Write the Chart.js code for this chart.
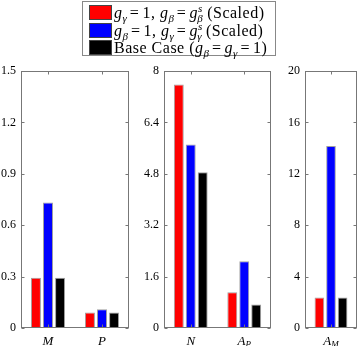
<!DOCTYPE html>
<html>
<head>
<meta charset="utf-8">
<title>Scaled bar comparison</title>
<script src="https://cdn.jsdelivr.net/npm/chart.js@4.4.1/dist/chart.umd.min.js"></script>
<style>
  html, body { margin: 0; padding: 0; background: #fff; }
  body { width: 360px; height: 346px; position: relative; overflow: hidden; }
  .panel { position: absolute; top: 0; height: 346px; }
  #legend {
    position: absolute; left: 82px; top: 1px; width: 192px; height: 53px;
    border: 1px solid #888; background: #fff;
    font-family: "Liberation Serif", "DejaVu Serif", serif; font-size: 16px; color: #000;
    letter-spacing: 0.5px;
  }
  #legend .row { position: absolute; left: 6px; height: 18px; line-height: 18px; white-space: nowrap; }
  #legend .sw { display: inline-block; width: 23px; height: 15px; border: 1px solid #444;
    vertical-align: -2px; margin-right: 2px; box-sizing: border-box; }
  #legend sub, #legend sup { font-size: 11px; line-height: 0; font-style: italic; letter-spacing: 0; }
  #legend .eq { margin: 0 3px; }
</style>
</head>
<body>

<!-- three panels, each its own chart -->
<div class="panel" style="left:0; width:132px;"><canvas id="c1" width="132" height="346"></canvas></div>
<div class="panel" style="left:132px; width:142px;"><canvas id="c2" width="142" height="346"></canvas></div>
<div class="panel" style="left:274px; width:86px;"><canvas id="c3" width="86" height="346"></canvas></div>

<!-- legend -->
<div id="legend">
  <div class="row" style="top:2px"><span class="sw" style="background:#ff0000"></span><i>g</i><sub>&gamma;</sub><span class="eq">=</span>1, <i>g</i><sub>&beta;</sub><span class="eq">=</span><i>g</i><sup>s</sup><sub style="margin-left:-5px">&beta;</sub> (Scaled)</div>
  <div class="row" style="top:20px"><span class="sw" style="background:#0000ff"></span><i>g</i><sub>&beta;</sub><span class="eq">=</span>1, <i>g</i><sub>&gamma;</sub><span class="eq">=</span><i>g</i><sup>s</sup><sub style="margin-left:-5px">&gamma;</sub> (Scaled)</div>
  <div class="row" style="top:37px"><span class="sw" style="background:#000000"></span>Base Case (<i>g</i><sub>&beta;</sub><span class="eq">=</span><i>g</i><sub>&gamma;</sub><span class="eq">=</span>1)</div>
</div>

<script>
// ---- data ----
const labels1 = ["M", "P"];
const red1 = [0.293, 0.09];
const blue1 = [0.732, 0.11];
const black1 = [0.293, 0.09];
const ticks1 = [0, 0.3, 0.6, 0.9, 1.2, 1.5];

const labels2 = ["N", "A_P"];
const red2 = [7.58, 1.11];
const blue2 = [5.71, 2.08];
const black2 = [4.85, 0.73];
const ticks2 = [0, 1.6, 3.2, 4.8, 6.4, 8];

const labels3 = ["A_M"];
const red3 = [2.37];
const blue3 = [14.16];
const black3 = [2.37];
const ticks3 = [0, 4, 8, 12, 16, 20];

const seriesColors = ["#ff0000", "#0000ff", "#000000"];
const serif = "'Liberation Serif', 'DejaVu Serif', serif";

// box around the plot area plus small inward ticks, like matlab
const boxPlugin = {
  id: "box",
  afterDraw(chart) {
    const a = chart.chartArea, c = chart.ctx;
    const y = chart.scales.y, x = chart.scales.x;
    c.save();
    c.strokeStyle = "#777";
    c.lineWidth = 1;
    const L = Math.round(a.left) + 0.5, R = Math.round(a.right) - 0.5;
    const T = Math.round(a.top) + 0.5, B = Math.round(a.bottom) - 0.5;
    c.strokeRect(L, T, R - L, B - T);
    c.beginPath();
    y.ticks.forEach(t => {
      const py = Math.round(y.getPixelForValue(t.value)) + 0.5;
      c.moveTo(L, py); c.lineTo(L + 3, py);
      c.moveTo(R, py); c.lineTo(R - 3, py);
    });
    x.ticks.forEach((t, i) => {
      const px = Math.round(x.getPixelForTick(i)) + 0.5;
      c.moveTo(px, B); c.lineTo(px, B - 3);
      c.moveTo(px, T); c.lineTo(px, T + 3);
    });
    c.stroke();
    c.restore();
  }
};

// category label with a subscript, e.g. A_P
const subLabelPlugin = {
  id: "subLabels",
  afterDraw(chart) {
    const x = chart.scales.x, c = chart.ctx;
    c.save();
    c.fillStyle = "#000";
    c.textBaseline = "alphabetic";
    chart.data.labels.forEach((lab, i) => {
      const parts = lab.split("_");
      const main = parts[0], sub = parts[1] || "";
      c.font = "italic 13px " + serif;
      const w1 = c.measureText(main).width;
      c.font = "italic 9px " + serif;
      const w2 = sub ? c.measureText(sub).width : 0;
      const px = x.getPixelForTick(i);
      const start = px - (w1 + w2) / 2;
      c.font = "italic 13px " + serif;
      c.textAlign = "left";
      c.fillText(main, start, 345);
      if (sub) {
        c.font = "italic 9px " + serif;
        c.fillText(sub, start + w1, 347);
      }
    });
    c.restore();
  }
};

function makePanel(id, labels, red, blue, black, ticks, yWidth) {
  new Chart(document.getElementById(id), {
    type: "bar",
    data: {
      labels: labels,
      datasets: [red, blue, black].map((d, i) => ({
        data: d,
        backgroundColor: seriesColors[i],
        borderColor: "#a0a0a0",
        borderWidth: 1,
        categoryPercentage: 0.67,
        barPercentage: 0.83
      }))
    },
    options: {
      responsive: false,
      animation: false,
      layout: { padding: { left: 0, right: 3, top: 71, bottom: 0 } },
      plugins: { legend: { display: false }, tooltip: { enabled: false } },
      scales: {
        x: {
          grid: { display: false, drawTicks: false },
          border: { display: false },
          ticks: { display: false },
          afterFit(s) { s.height = 18; }
        },
        y: {
          min: ticks[0],
          max: ticks[ticks.length - 1],
          grid: { display: false, drawTicks: false },
          border: { display: false },
          afterBuildTicks(s) { s.ticks = ticks.map(v => ({ value: v })); },
          afterFit(s) { s.width = yWidth; },
          ticks: {
            padding: 5,
            color: "#000",
            font: { family: serif, size: 12 },
            callback: v => String(v)
          }
        }
      }
    },
    plugins: [boxPlugin, subLabelPlugin]
  });
}

makePanel("c1", labels1, red1, blue1, black1, ticks1, 21);
makePanel("c2", labels2, red2, blue2, black2, ticks2, 32);
makePanel("c3", labels3, red3, blue3, black3, ticks3, 31);
</script>
</body>
</html>
